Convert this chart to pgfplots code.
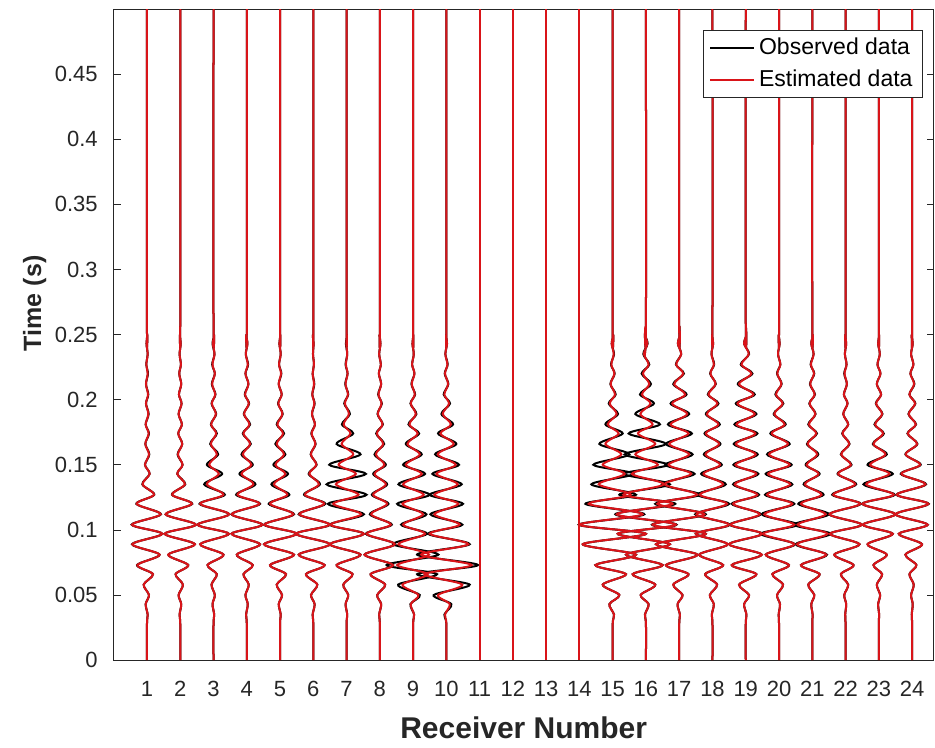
\documentclass[border=0pt]{standalone}
\usepackage{pgfplots}
\pgfplotsset{compat=1.18}
\usepackage{pgfplotstable}
\usepackage{fontspec}
\setmainfont{Liberation Sans}
\definecolor{mred}{rgb}{0.85,0.08,0.10}
\definecolor{mgray}{rgb}{0.15,0.15,0.15}

\pgfplotstableread{
t o e
0 1 1
0.028 1 1
0.035 1.02 1.02
0.043 0.96 0.96
0.050 1.06 1.06
0.058 0.90 0.90
0.066 1.18 1.18
0.073 0.70 0.71
0.081 1.38 1.38
0.089 0.55 0.56
0.097 1.46 1.46
0.104 0.54 0.55
0.112 1.42 1.41
0.120 0.68 0.69
0.127 1.22 1.21
0.135 0.86 0.87
0.143 1.08 1.08
0.150 0.94 0.94
0.158 1.07 1.06
0.166 0.95 0.95
0.174 1.06 1.05
0.181 0.96 0.96
0.189 1.05 1.04
0.197 0.97 0.97
0.204 1.04 1.03
0.212 0.97 0.97
0.220 1.03 1.02
0.227 0.98 0.98
0.235 1.02 1.02
0.243 0.985 0.985
0.250 1.01 1.01
0.257 1 1
0.5 1 1
}\trA

\pgfplotstableread{
t o e
0 2 2
0.028 2 2
0.035 1.98 1.98
0.043 2.03 2.03
0.050 1.95 1.95
0.058 2.08 2.08
0.066 1.86 1.86
0.073 2.24 2.24
0.081 1.64 1.64
0.089 2.44 2.44
0.097 1.53 1.53
0.104 2.47 2.47
0.112 1.56 1.56
0.120 2.36 2.35
0.127 1.75 1.76
0.135 2.15 2.14
0.143 1.91 1.91
0.150 2.07 2.07
0.158 1.92 1.93
0.166 2.06 2.06
0.174 1.94 1.94
0.181 2.05 2.05
0.189 1.95 1.95
0.197 2.04 2.04
0.204 1.96 1.96
0.212 2.03 2.03
0.220 1.97 1.97
0.227 2.02 2.02
0.235 1.98 1.98
0.243 2.015 2.015
0.250 1.99 1.99
0.257 2 2
0.5 2 2
}\trB

\pgfplotstableread{
t o e
0 3 3
0.028 3 3
0.035 3.02 3.02
0.043 2.97 2.97
0.050 3.04 3.04
0.058 2.94 2.94
0.066 3.10 3.10
0.073 2.82 2.82
0.081 3.30 3.30
0.089 2.60 2.60
0.097 3.46 3.46
0.104 2.52 2.52
0.112 3.47 3.47
0.120 2.58 2.60
0.127 3.34 3.30
0.135 2.72 2.80
0.143 3.26 3.16
0.150 2.80 2.87
0.158 3.14 3.10
0.166 2.90 2.92
0.174 3.10 3.08
0.181 2.92 2.93
0.189 3.08 3.07
0.197 2.94 2.95
0.204 3.06 3.05
0.212 2.95 2.96
0.220 3.04 3.04
0.227 2.96 2.97
0.235 3.03 3.03
0.243 2.97 2.98
0.250 3.02 3.02
0.257 3 3
0.5 3 3
}\trC

\pgfplotstableread{
t o e
0 4 4
0.028 4 4
0.035 3.98 3.98
0.043 4.03 4.03
0.050 3.96 3.96
0.058 4.06 4.06
0.066 3.90 3.90
0.073 4.18 4.18
0.081 3.70 3.70
0.089 4.40 4.40
0.097 3.54 3.54
0.104 4.47 4.47
0.112 3.54 3.55
0.120 4.40 4.38
0.127 3.68 3.72
0.135 4.26 4.20
0.143 3.78 3.84
0.150 4.18 4.14
0.158 3.84 3.88
0.166 4.12 4.10
0.174 3.88 3.90
0.181 4.10 4.08
0.189 3.91 3.92
0.197 4.07 4.06
0.204 3.94 3.95
0.212 4.05 4.05
0.220 3.96 3.96
0.227 4.04 4.03
0.235 3.97 3.97
0.243 4.02 4.02
0.250 3.98 3.98
0.257 4 4
0.5 4 4
}\trD

\pgfplotstableread{
t o e
0 5 5
0.028 5 5
0.035 5.02 5.02
0.043 4.96 4.96
0.050 5.06 5.06
0.058 4.90 4.90
0.066 5.18 5.18
0.073 4.70 4.70
0.081 5.42 5.42
0.089 4.52 4.52
0.097 5.50 5.50
0.104 4.52 4.53
0.112 5.42 5.40
0.120 4.66 4.70
0.127 5.28 5.22
0.135 4.74 4.82
0.143 5.24 5.16
0.150 4.80 4.86
0.158 5.16 5.12
0.166 4.86 4.90
0.174 5.12 5.09
0.181 4.90 4.92
0.189 5.08 5.07
0.197 4.94 4.95
0.204 5.05 5.05
0.212 4.96 4.96
0.220 5.04 5.03
0.227 4.97 4.97
0.235 5.02 5.02
0.243 4.98 4.98
0.250 5.01 5.01
0.257 5 5
0.5 5 5
}\trE

\pgfplotstableread{
t o e
0 6 6
0.028 6 6
0.035 5.98 5.98
0.043 6.04 6.04
0.050 5.93 5.93
0.058 6.12 6.12
0.066 5.78 5.78
0.073 6.34 6.34
0.081 5.56 5.56
0.089 6.50 6.50
0.097 5.48 5.48
0.104 6.50 6.49
0.112 5.56 5.58
0.120 6.36 6.33
0.127 5.72 5.75
0.135 6.20 6.17
0.143 5.86 5.88
0.150 6.10 6.09
0.158 5.92 5.93
0.166 6.07 6.06
0.174 5.94 5.95
0.181 6.05 6.05
0.189 5.96 5.96
0.197 6.04 6.03
0.204 5.97 5.97
0.212 6.03 6.02
0.220 5.98 5.98
0.227 6.02 6.02
0.235 5.99 5.99
0.243 6.01 6.01
0.250 5.99 5.99
0.257 6 6
0.5 6 6
}\trF

\pgfplotstableread{
t o e
0 7 7
0.028 7 7
0.035 7.02 7.02
0.043 6.97 6.97
0.050 7.05 7.05
0.058 6.90 6.90
0.066 7.18 7.18
0.073 6.70 6.70
0.081 7.42 7.42
0.089 6.50 6.50
0.097 7.52 7.52
0.104 6.50 6.52
0.112 7.52 7.44
0.120 6.44 6.60
0.127 7.60 7.36
0.135 6.40 6.68
0.143 7.58 7.28
0.150 6.48 6.76
0.158 7.42 7.20
0.166 6.70 6.85
0.174 7.20 7.12
0.181 6.86 6.91
0.189 7.10 7.07
0.197 6.93 6.95
0.204 7.05 7.04
0.212 6.96 6.97
0.220 7.03 7.03
0.227 6.97 6.98
0.235 7.02 7.02
0.243 6.98 6.99
0.250 7.01 7.01
0.257 7 7
0.5 7 7
}\trG

\pgfplotstableread{
t o e
0 8 8
0.028 8 8
0.035 7.98 7.98
0.043 8.04 8.04
0.050 7.92 7.92
0.058 8.16 8.16
0.066 7.72 7.72
0.073 8.40 8.40
0.081 7.54 7.54
0.089 8.46 8.45
0.097 7.58 7.60
0.104 8.36 8.33
0.112 7.70 7.74
0.120 8.26 8.22
0.127 7.76 7.80
0.135 8.22 8.18
0.143 7.80 7.84
0.150 8.18 8.14
0.158 7.84 7.88
0.166 8.13 8.10
0.174 7.89 7.91
0.181 8.09 8.08
0.189 7.93 7.94
0.197 8.06 8.05
0.204 7.95 7.96
0.212 8.04 8.04
0.220 7.97 7.97
0.227 8.03 8.03
0.235 7.98 7.98
0.243 8.02 8.02
0.250 7.99 7.99
0.257 8 8
0.5 8 8
}\trH

\pgfplotstableread{
t o e
0 9 9
0.028 9 9
0.035 9.03 9.03
0.043 8.92 8.93
0.050 9.20 9.16
0.058 8.55 8.68
0.066 9.72 9.44
0.073 8.20 8.52
0.081 9.76 9.48
0.089 8.40 8.56
0.097 9.42 9.36
0.104 8.64 8.70
0.112 9.40 9.30
0.120 8.52 8.68
0.127 9.50 9.32
0.135 8.56 8.70
0.143 9.36 9.26
0.150 8.70 8.78
0.158 9.26 9.20
0.166 8.78 8.83
0.174 9.18 9.14
0.181 8.86 8.89
0.189 9.10 9.08
0.197 8.92 8.93
0.204 9.06 9.05
0.212 8.95 8.96
0.220 9.04 9.04
0.227 8.97 8.97
0.235 9.02 9.02
0.243 8.98 8.98
0.250 9.01 9.01
0.257 9 9
0.5 9 9
}\trI

\pgfplotstableread{
t o e
0 10 10
0.028 10 10
0.035 9.94 9.96
0.043 10.15 10.10
0.050 9.62 9.75
0.058 10.70 10.48
0.066 9.12 9.34
0.073 10.95 10.76
0.081 9.12 9.24
0.089 10.70 10.66
0.097 9.45 9.50
0.104 10.48 10.40
0.112 9.52 9.64
0.120 10.50 10.36
0.127 9.50 9.64
0.135 10.46 10.34
0.143 9.58 9.70
0.150 10.38 10.28
0.158 9.66 9.74
0.166 10.30 10.22
0.174 9.75 9.82
0.181 10.20 10.14
0.189 9.85 9.89
0.197 10.11 10.08
0.204 9.92 9.94
0.212 10.06 10.05
0.220 9.95 9.96
0.227 10.04 10.03
0.235 9.97 9.97
0.243 10.02 10.02
0.250 9.99 9.99
0.257 10 10
0.5 10 10
}\trJ

\pgfplotstableread{
t o e
0 11 11
0.25 11 11
0.5 11 11
}\trK

\pgfplotstableread{
t o e
0 12 12
0.25 12 12
0.5 12 12
}\trL

\pgfplotstableread{
t o e
0 13 13
0.25 13 13
0.5 13 13
}\trM

\pgfplotstableread{
t o e
0 14 14
0.25 14 14
0.5 14 14
}\trN

\pgfplotstableread{
t o e
0 15 15
0.028 15 15
0.035 15.04 15.04
0.043 14.90 14.90
0.050 15.20 15.20
0.058 14.70 14.70
0.066 15.40 15.40
0.073 14.48 14.48
0.081 15.70 15.70
0.089 14.10 14.10
0.097 16.00 16.00
0.104 13.98 14.00
0.112 15.95 15.90
0.120 14.18 14.28
0.127 15.70 15.54
0.135 14.36 14.58
0.143 15.62 15.36
0.150 14.42 14.70
0.158 15.50 15.26
0.166 14.60 14.78
0.174 15.30 15.18
0.181 14.78 14.85
0.189 15.16 15.12
0.197 14.88 14.91
0.204 15.09 15.07
0.212 14.93 14.94
0.220 15.06 15.05
0.227 14.95 14.96
0.235 15.04 15.03
0.243 14.97 14.97
0.250 15.02 15.02
0.257 15 15
0.5 15 15
}\trO

\pgfplotstableread{
t o e
0 16 16
0.028 16 16
0.035 15.97 15.97
0.043 16.08 16.08
0.050 15.84 15.84
0.058 16.28 16.28
0.066 15.60 15.60
0.073 16.50 16.50
0.081 15.40 15.40
0.089 16.72 16.72
0.097 15.15 15.15
0.104 16.92 16.90
0.112 15.08 15.12
0.120 16.88 16.80
0.127 15.20 15.32
0.135 16.72 16.54
0.143 15.34 15.58
0.150 16.66 16.36
0.158 15.36 15.68
0.166 16.60 16.28
0.174 15.48 15.76
0.181 16.42 16.20
0.189 15.68 15.83
0.197 16.24 16.14
0.204 15.82 15.88
0.212 16.15 16.10
0.220 15.87 15.91
0.227 16.10 16.08
0.235 15.92 15.94
0.243 16.05 16.04
0.250 15.97 15.97
0.257 16 16
0.5 16 16
}\trP

\pgfplotstableread{
t o e
0 17 17
0.028 17 17
0.035 17.02 17.02
0.043 16.95 16.95
0.050 17.10 17.10
0.058 16.82 16.82
0.066 17.28 17.28
0.073 16.60 16.60
0.081 17.55 17.55
0.089 16.30 16.30
0.097 17.80 17.80
0.104 16.18 16.20
0.112 17.80 17.76
0.120 16.28 16.34
0.127 17.62 17.54
0.135 16.48 16.56
0.143 17.46 17.36
0.150 16.58 16.68
0.158 17.40 17.30
0.166 16.60 16.70
0.174 17.38 17.28
0.181 16.66 16.74
0.189 17.30 17.24
0.197 16.74 16.79
0.204 17.22 17.18
0.212 16.82 16.85
0.220 17.14 17.12
0.227 16.90 16.91
0.235 17.06 17.06
0.243 16.96 16.96
0.250 17.02 17.02
0.257 17 17
0.5 17 17
}\trQ

\pgfplotstableread{
t o e
0 18 18
0.028 18 18
0.035 17.98 17.98
0.043 18.04 18.04
0.050 17.92 17.92
0.058 18.14 18.14
0.066 17.78 17.78
0.073 18.32 18.32
0.081 17.60 17.60
0.089 18.46 18.46
0.097 17.50 17.50
0.104 18.52 18.50
0.112 17.48 17.52
0.120 18.50 18.44
0.127 17.54 17.62
0.135 18.40 18.32
0.143 17.66 17.73
0.150 18.28 18.23
0.158 17.74 17.79
0.166 18.24 18.20
0.174 17.76 17.80
0.181 18.22 18.18
0.189 17.80 17.83
0.197 18.18 18.15
0.204 17.86 17.88
0.212 18.10 18.09
0.220 17.93 17.94
0.227 18.05 18.04
0.235 17.97 17.97
0.243 18.02 18.02
0.250 17.99 17.99
0.257 18 18
0.5 18 18
}\trR

\pgfplotstableread{
t o e
0 19 19
0.028 19 19
0.035 19.02 19.02
0.043 18.95 18.95
0.050 19.10 19.10
0.058 18.80 18.80
0.066 19.32 19.32
0.073 18.58 18.58
0.081 19.48 19.48
0.089 18.50 18.50
0.097 19.50 19.49
0.104 18.52 18.54
0.112 19.45 19.42
0.120 18.58 18.62
0.127 19.40 19.35
0.135 18.62 18.67
0.143 19.38 19.32
0.150 18.63 18.69
0.158 19.36 19.30
0.166 18.64 18.70
0.174 19.35 19.29
0.181 18.66 18.72
0.189 19.32 19.27
0.197 18.70 18.75
0.204 19.27 19.23
0.212 18.76 18.80
0.220 19.20 19.17
0.227 18.85 18.87
0.235 19.10 19.09
0.243 18.95 18.95
0.250 19.02 19.02
0.257 19 19
0.5 19 19
}\trS

\pgfplotstableread{
t o e
0 20 20
0.028 20 20
0.035 19.99 19.99
0.043 20.03 20.03
0.050 19.94 19.94
0.058 20.12 20.12
0.066 19.80 19.80
0.073 20.30 20.30
0.081 19.60 19.60
0.089 20.48 20.46
0.097 19.45 19.52
0.104 20.56 20.46
0.112 19.48 19.56
0.120 20.46 20.40
0.127 19.58 19.64
0.135 20.40 20.34
0.143 19.60 19.67
0.150 20.38 20.32
0.158 19.64 19.70
0.166 20.32 20.27
0.174 19.74 19.78
0.181 20.20 20.17
0.189 19.84 19.86
0.197 20.13 20.11
0.204 19.89 19.91
0.212 20.08 20.07
0.220 19.94 19.95
0.227 20.04 20.04
0.235 19.97 19.97
0.243 20.02 20.02
0.250 19.99 19.99
0.257 20 20
0.5 20 20
}\trT

\pgfplotstableread{
t o e
0 21 21
0.028 21 21
0.035 21.01 21.01
0.043 20.97 20.97
0.050 21.06 21.06
0.058 20.88 20.88
0.066 21.22 21.22
0.073 20.66 20.66
0.081 21.44 21.42
0.089 20.50 20.54
0.097 21.55 21.46
0.104 20.45 20.56
0.112 21.50 21.40
0.120 20.58 20.66
0.127 21.34 21.28
0.135 20.74 20.78
0.143 21.22 21.19
0.150 20.80 20.83
0.158 21.18 21.15
0.166 20.84 20.86
0.174 21.14 21.12
0.181 20.88 20.90
0.189 21.10 21.09
0.197 20.91 20.92
0.204 21.08 21.07
0.212 20.93 20.94
0.220 21.06 21.05
0.227 20.95 20.96
0.235 21.04 21.04
0.243 20.97 20.97
0.250 21.02 21.02
0.257 21 21
0.5 21 21
}\trU

\pgfplotstableread{
t o e
0 22 22
0.028 22 22
0.035 21.99 21.99
0.043 22.02 22.02
0.050 21.96 21.96
0.058 22.08 22.08
0.066 21.86 21.86
0.073 22.24 22.24
0.081 21.66 21.66
0.089 22.42 22.42
0.097 21.53 21.53
0.104 22.49 22.49
0.112 21.51 21.52
0.120 22.46 22.44
0.127 21.60 21.63
0.135 22.32 22.29
0.143 21.76 21.78
0.150 22.18 22.16
0.158 21.86 21.87
0.166 22.12 22.11
0.174 21.90 21.91
0.181 22.08 22.08
0.189 21.93 21.93
0.197 22.06 22.06
0.204 21.95 21.95
0.212 22.04 22.04
0.220 21.96 21.97
0.227 22.03 22.03
0.235 21.98 21.98
0.243 22.02 22.02
0.250 21.99 21.99
0.257 22 22
0.5 22 22
}\trV

\pgfplotstableread{
t o e
0 23 23
0.028 23 23
0.035 23.01 23.01
0.043 22.98 22.98
0.050 23.04 23.04
0.058 22.94 22.94
0.066 23.10 23.10
0.073 22.84 22.84
0.081 23.24 23.24
0.089 22.66 22.66
0.097 23.42 23.42
0.104 22.52 22.52
0.112 23.50 23.50
0.120 22.50 22.51
0.127 23.48 23.45
0.135 22.54 22.62
0.143 23.42 23.32
0.150 22.66 22.74
0.158 23.24 23.20
0.166 22.82 22.84
0.174 23.15 23.13
0.181 22.87 22.89
0.189 23.11 23.10
0.197 22.91 22.92
0.204 23.07 23.07
0.212 22.94 22.94
0.220 23.05 23.05
0.227 22.96 22.96
0.235 23.03 23.03
0.243 22.98 22.98
0.250 23.01 23.01
0.257 23 23
0.5 23 23
}\trW

\pgfplotstableread{
t o e
0 24 24
0.028 24 24
0.035 23.99 23.99
0.043 24.02 24.02
0.050 23.97 23.97
0.058 24.05 24.05
0.066 23.92 23.92
0.073 24.13 24.13
0.081 23.80 23.80
0.089 24.30 24.30
0.097 23.60 23.60
0.104 24.47 24.47
0.112 23.50 23.50
0.120 24.50 24.49
0.127 23.53 23.54
0.135 24.42 24.40
0.143 23.66 23.68
0.150 24.26 24.24
0.158 23.80 23.81
0.166 24.16 24.15
0.174 23.86 23.87
0.181 24.12 24.11
0.189 23.89 23.90
0.197 24.10 24.09
0.204 23.92 23.92
0.212 24.07 24.06
0.220 23.95 23.95
0.227 24.04 24.04
0.235 23.97 23.97
0.243 24.02 24.02
0.250 23.99 23.99
0.257 24 24
0.5 24 24
}\trX

\pgfplotsset{
  obs/.style={black, line width=1pt, smooth},
  est/.style={mred, line width=1pt, smooth},
}

\begin{document}
\begin{tikzpicture}
\begin{axis}[
  name=ax,
  scale only axis,
  width=409.9pt, height=325.5pt,
  xmin=0, xmax=24.65, ymin=0, ymax=0.5,
  xtick={1,2,3,4,5,6,7,8,9,10,11,12,13,14,15,16,17,18,19,20,21,22,23,24},
  ytick={0,0.05,0.1,0.15,0.2,0.25,0.3,0.35,0.4,0.45},
  yticklabels={0,0.05,0.1,0.15,0.2,0.25,0.3,0.35,0.4,0.45},
  /pgf/number format/assume math mode=true,
  tick align=inside, tick pos=both,
  major tick length=3.5pt,
  tick style={mgray, line width=0.4pt},
  axis line style={mgray, line width=0.5pt},
  ticklabel style={font=\fontsize{11}{13}\selectfont, text=mgray},
  xticklabel style={yshift=-7pt},
  yticklabel style={xshift=-4.5pt},
  xlabel={\textbf{Receiver Number}},
  ylabel={\textbf{Time (s)}},
  xlabel style={font=\fontsize{15}{17}\selectfont, text=mgray, at={(axis description cs:0.5,-0.1045)}, anchor=center},
  ylabel style={font=\fontsize{12.5}{14}\selectfont, text=mgray, at={(axis description cs:-0.0964,0.548)}, anchor=center},
  legend style={at={(0.987,0.9675)}, anchor=north east, draw=mgray, line width=0.5pt, fill=white,
    font=\fontsize{11.5}{13}\selectfont, text=black, inner xsep=3pt, inner ysep=1.75pt, row sep=2pt},
  legend cell align=left,
  legend image code/.code={\draw[#1, line width=1pt] (0pt,0pt) -- (22pt,0pt);},
]
\addplot[obs] table[x=o,y=t]{\trA};
\addplot[obs,forget plot] table[x=o,y=t]{\trB};
\addplot[obs,forget plot] table[x=o,y=t]{\trC};
\addplot[obs,forget plot] table[x=o,y=t]{\trD};
\addplot[obs,forget plot] table[x=o,y=t]{\trE};
\addplot[obs,forget plot] table[x=o,y=t]{\trF};
\addplot[obs,forget plot] table[x=o,y=t]{\trG};
\addplot[obs,forget plot] table[x=o,y=t]{\trH};
\addplot[obs,forget plot] table[x=o,y=t]{\trI};
\addplot[obs,forget plot] table[x=o,y=t]{\trJ};
\addplot[obs,sharp plot,forget plot] table[x=o,y=t]{\trK};
\addplot[obs,sharp plot,forget plot] table[x=o,y=t]{\trL};
\addplot[obs,sharp plot,forget plot] table[x=o,y=t]{\trM};
\addplot[obs,sharp plot,forget plot] table[x=o,y=t]{\trN};
\addplot[obs,forget plot] table[x=o,y=t]{\trO};
\addplot[obs,forget plot] table[x=o,y=t]{\trP};
\addplot[obs,forget plot] table[x=o,y=t]{\trQ};
\addplot[obs,forget plot] table[x=o,y=t]{\trR};
\addplot[obs,forget plot] table[x=o,y=t]{\trS};
\addplot[obs,forget plot] table[x=o,y=t]{\trT};
\addplot[obs,forget plot] table[x=o,y=t]{\trU};
\addplot[obs,forget plot] table[x=o,y=t]{\trV};
\addplot[obs,forget plot] table[x=o,y=t]{\trW};
\addplot[obs,forget plot] table[x=o,y=t]{\trX};
\addplot[est] table[x=e,y=t]{\trA};
\addplot[est,forget plot] table[x=e,y=t]{\trB};
\addplot[est,forget plot] table[x=e,y=t]{\trC};
\addplot[est,forget plot] table[x=e,y=t]{\trD};
\addplot[est,forget plot] table[x=e,y=t]{\trE};
\addplot[est,forget plot] table[x=e,y=t]{\trF};
\addplot[est,forget plot] table[x=e,y=t]{\trG};
\addplot[est,forget plot] table[x=e,y=t]{\trH};
\addplot[est,forget plot] table[x=e,y=t]{\trI};
\addplot[est,forget plot] table[x=e,y=t]{\trJ};
\addplot[est,sharp plot,forget plot] table[x=e,y=t]{\trK};
\addplot[est,sharp plot,forget plot] table[x=e,y=t]{\trL};
\addplot[est,sharp plot,forget plot] table[x=e,y=t]{\trM};
\addplot[est,sharp plot,forget plot] table[x=e,y=t]{\trN};
\addplot[est,forget plot] table[x=e,y=t]{\trO};
\addplot[est,forget plot] table[x=e,y=t]{\trP};
\addplot[est,forget plot] table[x=e,y=t]{\trQ};
\addplot[est,forget plot] table[x=e,y=t]{\trR};
\addplot[est,forget plot] table[x=e,y=t]{\trS};
\addplot[est,forget plot] table[x=e,y=t]{\trT};
\addplot[est,forget plot] table[x=e,y=t]{\trU};
\addplot[est,forget plot] table[x=e,y=t]{\trV};
\addplot[est,forget plot] table[x=e,y=t]{\trW};
\addplot[est,forget plot] table[x=e,y=t]{\trX};
\legend{Observed data, Estimated data}
\end{axis}
\pgfresetboundingbox
\path[use as bounding box] ([xshift=-56.85pt,yshift=-43.5pt]ax.south west) rectangle ([xshift=0.65pt,yshift=4.5pt]ax.north east);
\end{tikzpicture}
\end{document}
